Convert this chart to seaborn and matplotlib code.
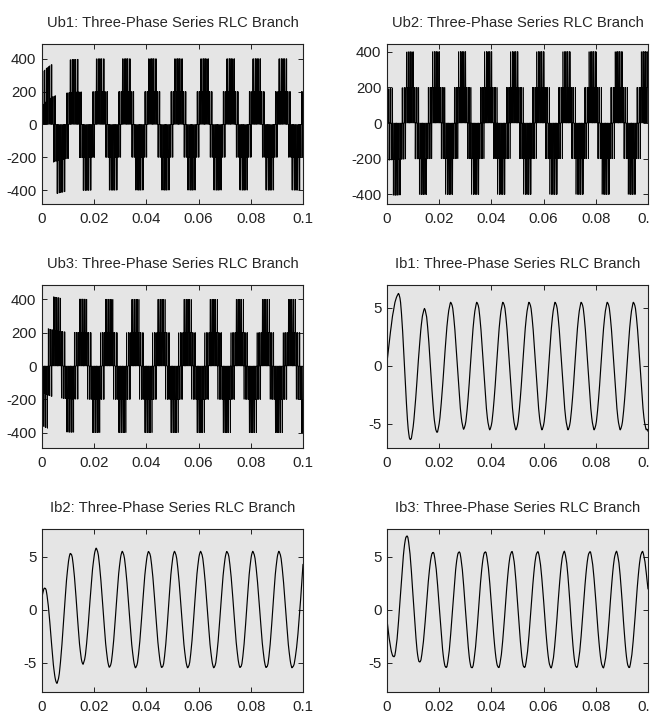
import numpy as np
import pandas as pd
import matplotlib
matplotlib.use("Agg")
import matplotlib.pyplot as plt
import seaborn as sns

# ---- time base ----
t_end = 0.1
dt = 1e-5
t = np.arange(0.0, t_end + dt / 2, dt)

# ---- inverter / branch voltage parameters ----
v_dc = 600.0            # dc link (phase levels 0, +-200, +-400 V)
f_fund = 100.0          # fundamental frequency, Hz
f_carrier = 1100.0      # PWM carrier frequency, Hz
mod_index = 0.9
ub1_peak_time = 0.0022  # first positive crest of Ub1
# phase lag of each branch voltage behind Ub1 (degrees): Ub1, Ub2, Ub3
phase_lag_deg = [0.0, 240.0, 120.0]
# start-up shift of the switched levels of each branch voltage (V) and its decay time (s)
start_offset = [-90.0, -10.0, 45.0]
offset_decay = 0.004
branch_inductance = 0.5  # H, sets the switching ripple on the currents

# ---- branch currents: start value, crests/troughs (time s, value A), end value ----
ib1_start = 0.3
ib1_ext_t = [0.0045, 0.0089, 0.0144, 0.0191, 0.0245, 0.0294, 0.0345, 0.0394, 0.0445, 0.0494,
             0.0545, 0.0594, 0.0645, 0.0694, 0.0745, 0.0794, 0.0845, 0.0894, 0.0945, 0.0994]
ib1_ext_v = [6.2, -6.35, 4.9, -5.7, 5.45, -5.4, 5.45, -5.45, 5.45, -5.45,
             5.45, -5.45, 5.45, -5.45, 5.45, -5.45, 5.45, -5.45, 5.45, -5.45]
ib1_end = -5.35

ib2_start = 1.2
ib2_ext_t = [0.0011, 0.0057, 0.0110, 0.0157, 0.0208, 0.0259, 0.0308, 0.0359, 0.0409, 0.0460,
             0.0508, 0.0559, 0.0608, 0.0659, 0.0709, 0.0760, 0.0808, 0.0860, 0.0908, 0.0959]
ib2_ext_v = [2.05, -6.9, 5.3, -5.1, 5.75, -5.4, 5.45, -5.45, 5.45, -5.45,
             5.45, -5.45, 5.45, -5.45, 5.45, -5.45, 5.45, -5.45, 5.45, -5.45]
ib2_end = 4.3

ib3_start = -1.0
ib3_ext_t = [0.0026, 0.0076, 0.0125, 0.0176, 0.0226, 0.0276, 0.0325, 0.0376, 0.0427, 0.0478,
             0.0526, 0.0577, 0.0628, 0.0679, 0.0726, 0.0777, 0.0828, 0.0879, 0.0927, 0.0978]
ib3_ext_v = [-4.45, 6.95, -4.95, 5.4, -5.45, 5.45, -5.5, 5.45, -5.45, 5.45,
             -5.45, 5.45, -5.45, 5.45, -5.45, 5.45, -5.45, 5.45, -5.45, 5.45]
ib3_end = 1.8

titles = ["Ub1: Three-Phase Series RLC Branch", "Ub2: Three-Phase Series RLC Branch",
          "Ub3: Three-Phase Series RLC Branch", "Ib1: Three-Phase Series RLC Branch",
          "Ib2: Three-Phase Series RLC Branch", "Ib3: Three-Phase Series RLC Branch"]
x_ticks = [0, 0.02, 0.04, 0.06, 0.08, 0.1]
x_tick_labels = ["0", "0.02", "0.04", "0.06", "0.08", "0.1"]
v_ticks = [-400, -200, 0, 200, 400]
v_tick_labels = ["-400", "-200", "0", "200", "400"]
i_ticks = [-5, 0, 5]
i_tick_labels = ["-5", "0", "5"]
y_limits = [(-485, 490), (-454, 443), (-492, 486), (-7.07, 6.98), (-7.76, 7.6), (-7.76, 7.6)]


def branch_voltages():
    """Phase voltages of a sine-triangle PWM two-level inverter."""
    theta = 2 * np.pi * f_fund * (t - ub1_peak_time)
    phase = f_carrier * t
    carrier = 2 * np.abs(2 * (phase % 1.0) - 1) - 1
    legs, fundamentals = [], []
    for lag in phase_lag_deg:
        ref = mod_index * np.cos(theta - np.deg2rad(lag))
        legs.append(v_dc * (ref > carrier))
        fundamentals.append(0.5 * v_dc * ref)
    legs = np.array(legs)
    neutral = legs.mean(axis=0)
    volts = []
    for k in range(3):
        u = legs[k] - neutral
        switched = np.abs(u) > 1.0
        u = u + switched * start_offset[k] * np.exp(-t / offset_decay)
        volts.append(u)
    return volts, fundamentals


def switching_ripple(u, u_fund):
    """Carrier-frequency ripple current driven by the PWM voltage error."""
    flux = np.cumsum(u - u_fund) * dt
    n = int(round(1.0 / (f_carrier * dt)))
    kernel = np.ones(n) / n
    slow = np.convolve(flux, kernel, mode="same")
    return (flux - slow) / branch_inductance


def current_trace(v_start, ext_t, ext_v, v_end):
    pts_t = [0.0] + list(ext_t) + [t_end]
    pts_v = [v_start] + list(ext_v) + [v_end]
    y = np.empty_like(t)
    n_seg = len(pts_t) - 1
    for i in range(n_seg):
        t0, t1 = pts_t[i], pts_t[i + 1]
        v0, v1 = pts_v[i], pts_v[i + 1]
        m = (t >= t0) & (t <= t1)
        s = (t[m] - t0) / (t1 - t0)
        if i == 0:
            shape = np.sin(0.5 * np.pi * s)
        elif i == n_seg - 1:
            shape = 1 - np.cos(0.5 * np.pi * s)
        else:
            shape = 0.5 * (1 - np.cos(np.pi * s))
        y[m] = v0 + (v1 - v0) * shape
    return y


(ub1, ub2, ub3), (uf1, uf2, uf3) = branch_voltages()
ib1 = current_trace(ib1_start, ib1_ext_t, ib1_ext_v, ib1_end) + switching_ripple(ub1, uf1)
ib2 = current_trace(ib2_start, ib2_ext_t, ib2_ext_v, ib2_end) + switching_ripple(ub2, uf2)
ib3 = current_trace(ib3_start, ib3_ext_t, ib3_ext_v, ib3_end) + switching_ripple(ub3, uf3)

signals = [ub1, ub2, ub3, ib1, ib2, ib3]

sns.set_theme(style="ticks")
plt.rcParams["font.family"] = ["Liberation Sans", "DejaVu Sans"]
plt.rcParams.update({
    "axes.unicode_minus": False,
    "axes.facecolor": "#e5e5e5",
    "axes.edgecolor": "#222222",
    "axes.linewidth": 0.8,
    "xtick.direction": "in",
    "ytick.direction": "in",
    "xtick.top": True,
    "ytick.right": True,
    "xtick.major.size": 3.5,
    "ytick.major.size": 3.5,
    "xtick.major.width": 0.7,
    "ytick.major.width": 0.7,
    "xtick.color": "#222222",
    "ytick.color": "#222222",
})

fig = plt.figure(figsize=(6.5, 7.18), dpi=100)
fig.patch.set_facecolor("white")

col_left = [42 / 650, 387 / 650]
ax_w = 261 / 650
row_bottom = [1 - 204 / 718, 1 - 448 / 718, 1 - 692 / 718]
row_h = [160 / 718, 163 / 718, 163 / 718]

for k in range(6):
    r, c = divmod(k, 2)
    ax = fig.add_axes([col_left[c], row_bottom[r], ax_w, row_h[r]])
    df = pd.DataFrame({"time": t, "value": signals[k]})
    is_voltage = k in (0, 1, 2)
    lw = 0.5 if is_voltage else 0.85
    sns.lineplot(data=df, x="time", y="value", ax=ax, color="black", linewidth=lw,
                 estimator=None, sort=False, errorbar=None)
    ax.set_xlim(0, t_end)
    ax.set_ylim(*y_limits[k])
    ax.set_xticks(x_ticks)
    ax.set_xticklabels(x_tick_labels)
    if is_voltage:
        ax.set_yticks(v_ticks)
        ax.set_yticklabels(v_tick_labels)
    else:
        ax.set_yticks(i_ticks)
        ax.set_yticklabels(i_tick_labels)
    ax.set_xlabel("")
    ax.set_ylabel("")
    ax.tick_params(axis="x", labelsize=10.8, pad=6)
    ax.tick_params(axis="y", labelsize=10.8, pad=4)
    ax.set_title(titles[k], fontsize=10.6, pad=12)
    for sp in ax.spines.values():
        sp.set_visible(True)

fig.savefig("out.png", dpi=100)
